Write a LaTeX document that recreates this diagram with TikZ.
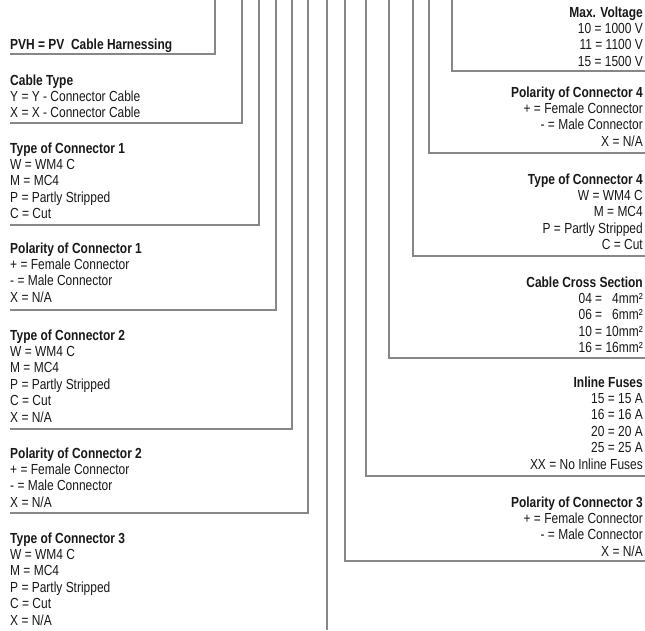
\documentclass[tikz,border=0pt]{standalone}
\usepackage{fontspec}
\setmainfont{Liberation Sans}[FakeStretch=0.82]
\newcommand\fsz{\fontsize{14.6}{16.4}\selectfont}
\tikzset{
  lt/.style={anchor=base west, inner sep=0pt, font=\fsz, text=black!90},
  rt/.style={anchor=base east, inner sep=0pt, font=\fsz, text=black!90},
  ttl/.style={font=\fsz\bfseries},
  ln/.style={draw=black!47, line width=1.1pt}
}
\newcommand\lblk[4]{%
  \node[lt,ttl] (#1t) at (10,#2) {#3};
  \foreach \s [count=\i] in {#4} \node[lt] (#1\i) at (10,#2+16.4*\i) {\s};
}
\newcommand\rblk[4]{%
  \node[rt,ttl] (#1t) at (643,#2) {#3};
  \foreach \s [count=\i] in {#4} \node[rt] (#1\i) at (643,#2+16.4*\i) {\s};
}
\begin{document}
\begin{tikzpicture}[x=1pt,y=-1pt]
\useasboundingbox (0,0) rectangle (645,630);
\fill[white] (0,0) rectangle (645,630);
% left blocks
\node[lt,ttl] (pvh) at (10,49.5) {PVH = PV\ \ Cable Harnessing};
\lblk{ct}{85}{Cable Type}{Y = Y - Connector Cable, X = X - Connector Cable}
\lblk{tca}{153}{Type of Connector 1}{W = WM4 C, M = MC4, P = Partly Stripped, C = Cut}
\lblk{pca}{253}{Polarity of Connector 1}{+ = Female Connector, - = Male Connector, X = N/A}
\lblk{tcb}{340}{Type of Connector 2}{W = WM4 C, M = MC4, P = Partly Stripped, C = Cut, X = N/A}
\lblk{pcb}{458}{Polarity of Connector 2}{+ = Female Connector, - = Male Connector, X = N/A}
\lblk{tcc}{543}{Type of Connector 3}{W = WM4 C, M = MC4, P = Partly Stripped, C = Cut, X = N/A}
% right blocks
\rblk{mv}{17}{Max. Voltage}{10 = 1000 V, 11 = 1100 V, 15 = 1500 V}
\rblk{pcd}{97}{Polarity of Connector 4}{+ = Female Connector, - = Male Connector, X = N/A}
\rblk{tcd}{184}{Type of Connector 4}{W = WM4 C, M = MC4, P = Partly Stripped, C = Cut}
\rblk{cs}{287}{Cable Cross Section}{04 = \phantom{1}4mm², 06 = \phantom{1}6mm², 10 = 10mm², 16 = 16mm²}
\rblk{inf}{387}{Inline Fuses}{15 = 15 A, 16 = 16 A, 20 = 20 A, 25 = 25 A, XX = No Inline Fuses}
\rblk{pcc}{507}{Polarity of Connector 3}{+ = Female Connector, - = Male Connector, X = N/A}
% bracket lines, left
\coordinate (ta1) at (215,0);   \coordinate (ea1) at (10,54);
\coordinate (ta2) at (242,0);   \coordinate (ea2) at (10,123);
\coordinate (ta3) at (259,0);   \coordinate (ea3) at (10,225);
\coordinate (ta4) at (276,0);   \coordinate (ea4) at (10,310);
\coordinate (ta5) at (292,0);   \coordinate (ea5) at (10,429);
\coordinate (ta6) at (308,0);   \coordinate (ea6) at (10,513);
\coordinate (ta7) at (327,0);   \coordinate (ea7) at (327,630);
% bracket lines, right
\coordinate (tb1) at (452,0);   \coordinate (eb1) at (645,71);
\coordinate (tb2) at (429,0);   \coordinate (eb2) at (645,153);
\coordinate (tb3) at (413,0);   \coordinate (eb3) at (645,256);
\coordinate (tb4) at (389,0);   \coordinate (eb4) at (645,358);
\coordinate (tb5) at (366,0);   \coordinate (eb5) at (645,476);
\coordinate (tb6) at (345,0);   \coordinate (eb6) at (645,561);
\foreach \k in {1,...,6} {
  \draw[ln] (ta\k) |- (ea\k);
  \draw[ln] (tb\k) |- (eb\k);
}
\draw[ln] (ta7) -- (ea7);
\end{tikzpicture}
\end{document}
